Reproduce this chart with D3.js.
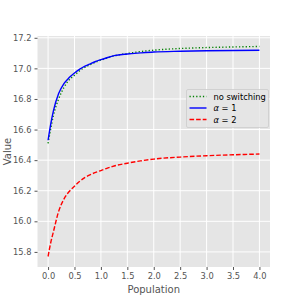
<!DOCTYPE html>
<html>
<head>
<meta charset="utf-8">
<script src="https://cdn.jsdelivr.net/npm/d3@7"></script>
<style>
  body { margin: 0; background: #fff; }
  svg { display: block; font-family: "DejaVu Sans", sans-serif; }
</style>
</head>
<body>
<svg id="chart" width="300" height="300"></svg>
<script>
// values
var population = [0, 0.05, 0.1, 0.2, 0.3, 0.4, 0.5, 0.6, 0.7, 0.8, 0.9, 1.0, 1.1, 1.25, 1.5, 1.75, 2.0, 2.5, 3.0, 3.5, 4.0];
var noSwitching = [16.51, 16.605, 16.69, 16.80, 16.875, 16.925, 16.955, 16.985, 17.007, 17.025, 17.04, 17.054, 17.066, 17.082, 17.097, 17.11, 17.119, 17.13, 17.136, 17.14, 17.143];
var alpha1 = [16.53, 16.635, 16.72, 16.835, 16.90, 16.94, 16.97, 16.995, 17.014, 17.03, 17.045, 17.057, 17.068, 17.083, 17.094, 17.101, 17.107, 17.112, 17.115, 17.117, 17.118];
var alpha2 = [15.77, 15.86, 15.93, 16.065, 16.145, 16.195, 16.23, 16.262, 16.287, 16.305, 16.32, 16.332, 16.345, 16.362, 16.38, 16.395, 16.407, 16.42, 16.429, 16.435, 16.44];

var xTicks = [0, 0.5, 1, 1.5, 2, 2.5, 3, 3.5, 4];
var yTicks = [15.8, 16.0, 16.2, 16.4, 16.6, 16.8, 17.0, 17.2];

var seriesNames = ["no switching", "α = 1", "α = 2"];
var seriesColors = ["#008000", "#0000ff", "#ff0000"];
var seriesDash = ["1.25,2.1", null, "4.6,2"];

// plot box (window.top is read-only, so no plain "top")
var plotL = 37.5, plotR = 270, plotT = 36, plotB = 267;

var svg = d3.select("#chart");

// 5% margins like matplotlib
var allY = noSwitching.concat(alpha1, alpha2);
var ymin = d3.min(allY), ymax = d3.max(allY);
var ypad = (ymax - ymin) * 0.05;
var xpad = (d3.max(population) - d3.min(population)) * 0.05;

var x = d3.scaleLinear().domain([d3.min(population) - xpad, d3.max(population) + xpad]).range([plotL, plotR]);
var y = d3.scaleLinear().domain([ymin - ypad, ymax + ypad]).range([plotB, plotT]);

// background
svg.append("rect")
    .attr("x", plotL).attr("y", plotT)
    .attr("width", plotR - plotL).attr("height", plotB - plotT)
    .attr("fill", "#e5e5e5");

// grid
svg.append("g").selectAll("line").data(xTicks).enter().append("line")
    .attr("x1", function(d){ return x(d); }).attr("x2", function(d){ return x(d); })
    .attr("y1", plotT).attr("y2", plotB)
    .attr("stroke", "#fff").attr("stroke-width", 1);
svg.append("g").selectAll("line").data(yTicks).enter().append("line")
    .attr("y1", function(d){ return y(d); }).attr("y2", function(d){ return y(d); })
    .attr("x1", plotL).attr("x2", plotR)
    .attr("stroke", "#fff").attr("stroke-width", 1);

// axes
var xAxis = d3.axisBottom(x).tickValues(xTicks).tickFormat(d3.format(".1f")).tickSize(3).tickPadding(3);
var yAxis = d3.axisLeft(y).tickValues(yTicks).tickFormat(d3.format(".1f")).tickSize(3).tickPadding(3);

var gx = svg.append("g").attr("transform", "translate(0," + plotB + ")").call(xAxis);
var gy = svg.append("g").attr("transform", "translate(" + plotL + ",0)").call(yAxis);
[gx, gy].forEach(function(g){
    g.select(".domain").remove();
    g.selectAll("line").attr("stroke", "#555555");
    g.selectAll("text").attr("fill", "#555555")
        .style("font-size", "8.3px").style("font-family", "DejaVu Sans");
});

// lines
var line = d3.line()
    .x(function(d){ return x(d[0]); })
    .y(function(d){ return y(d[1]); })
    .curve(d3.curveMonotoneX);

[noSwitching, alpha1, alpha2].forEach(function(vals, i){
    svg.append("path")
        .datum(population.map(function(p, j){ return [p, vals[j]]; }))
        .attr("d", line)
        .attr("fill", "none")
        .attr("stroke", seriesColors[i])
        .attr("stroke-width", 1.4)
        .attr("stroke-dasharray", seriesDash[i]);
});

// axis labels
svg.append("text")
    .attr("x", (plotL + plotR) / 2).attr("y", 293)
    .attr("text-anchor", "middle")
    .attr("fill", "#555555")
    .style("font-size", "10px")
    .text("Population");
svg.append("text")
    .attr("transform", "translate(11," + ((plotT + plotB) / 2) + ") rotate(-90)")
    .attr("text-anchor", "middle")
    .attr("fill", "#555555")
    .style("font-size", "10px")
    .text("Value");

// legend
var lg = svg.append("g").attr("transform", "translate(186.5,89.5)");
lg.append("rect")
    .attr("width", 82).attr("height", 38)
    .attr("rx", 1.5)
    .attr("fill", "#e5e5e5").attr("fill-opacity", 0.8)
    .attr("stroke", "#cccccc").attr("stroke-width", 0.8);
seriesNames.forEach(function(name, i){
    var ry = 7 + i * 11.5;
    lg.append("line")
        .attr("x1", 3).attr("x2", 20)
        .attr("y1", ry).attr("y2", ry)
        .attr("stroke", seriesColors[i])
        .attr("stroke-width", 1.4)
        .attr("stroke-dasharray", seriesDash[i]);
    var t = lg.append("text")
        .attr("x", 27).attr("y", ry + 3)
        .attr("fill", "#000")
        .style("font-size", "8.3px");
    if (i === 0) {
        t.text(name);
    } else {
        t.append("tspan").style("font-style", "italic").text("α");
        t.append("tspan").text(name.slice(1));
    }
});
</script>
</body>
</html>
